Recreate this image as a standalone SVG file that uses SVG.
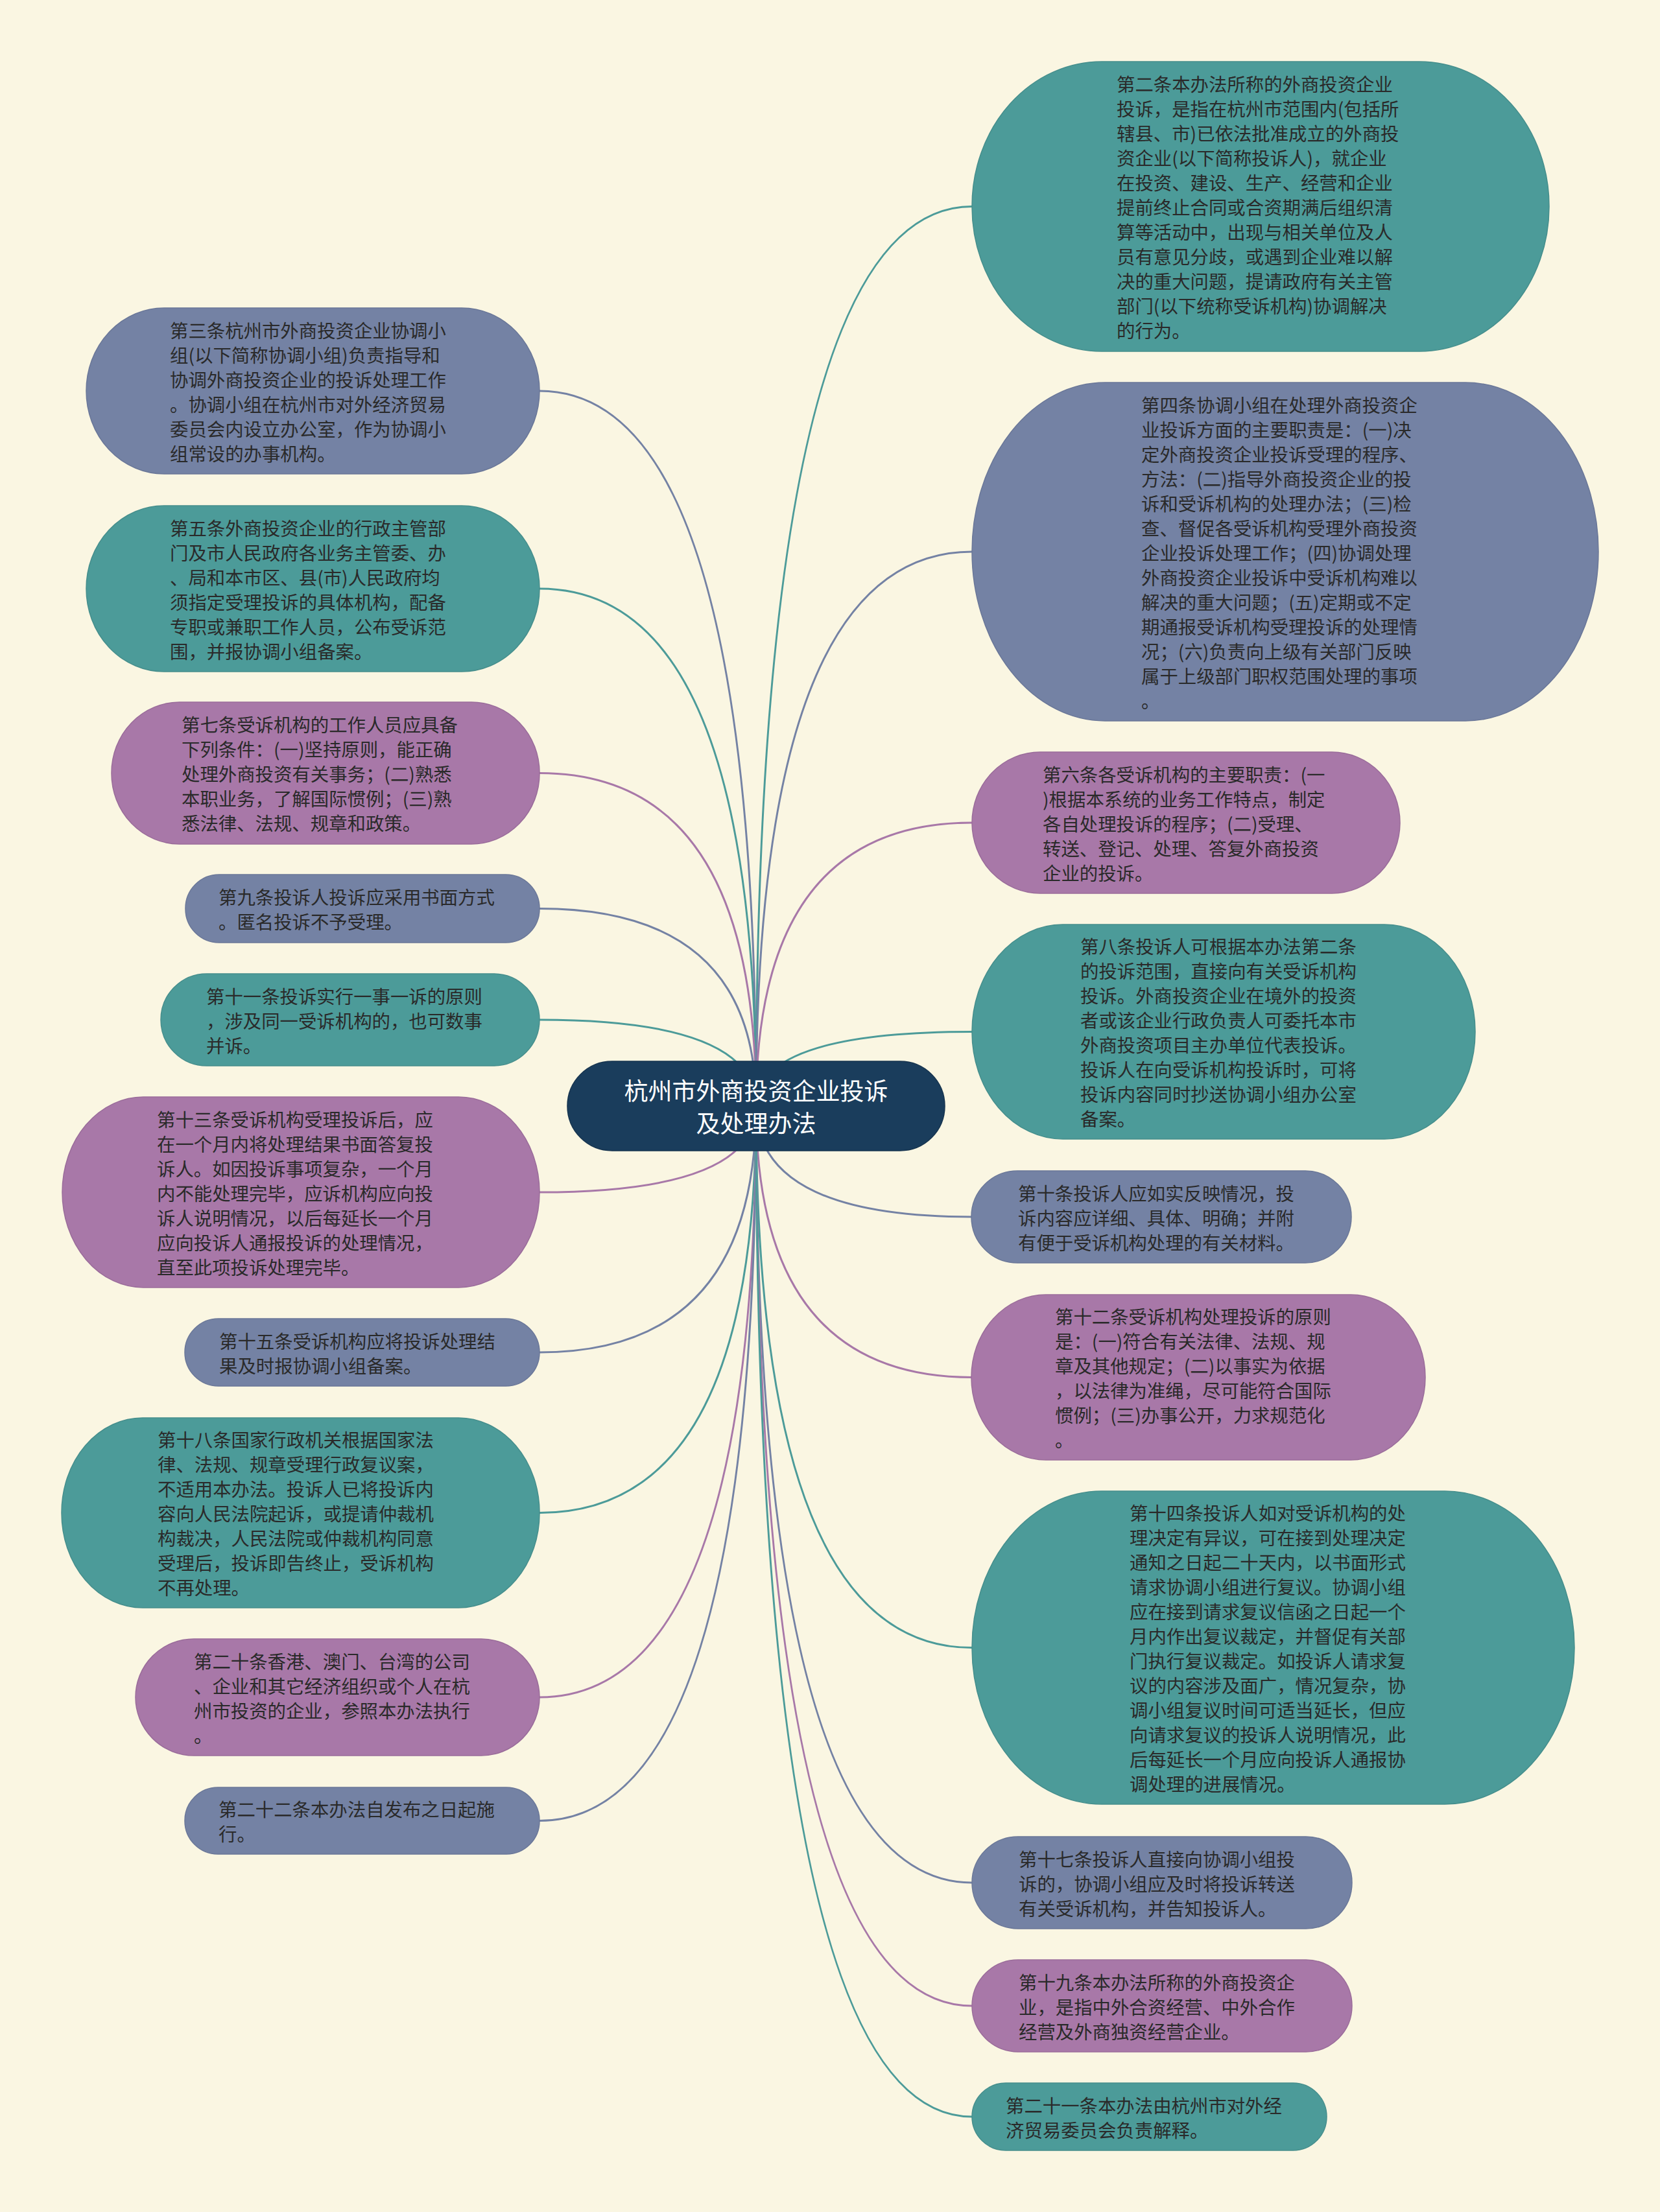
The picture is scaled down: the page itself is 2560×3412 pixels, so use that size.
<svg xmlns="http://www.w3.org/2000/svg" width="2560" height="3412" viewBox="0 0 2560 3412">
<style>
.bg{fill:#FAF6E2}
.nt{fill:#4C9B99;stroke:#458E8C;stroke-width:1.5}
.nb{fill:#7482A4;stroke:#6A7798;stroke-width:1.5}
.np{fill:#A878A8;stroke:#9A6C9A;stroke-width:1.5}
.nc{fill:#1A3D5C;stroke:#15334E;stroke-width:1.5}
.ct{stroke:#4C9B99}
.cb{stroke:#7482A4}
.cp{stroke:#A878A8}
#connectors path{fill:none;stroke-width:3}
.tx{font-family:"Noto Sans CJK SC","Noto Sans",sans-serif;font-size:28.4px;fill:#2A2A2A;dominant-baseline:central}
.tc{font-family:"Noto Sans CJK SC","Noto Sans",sans-serif;font-size:37px;fill:#FFFFFF;dominant-baseline:central;text-anchor:middle}
</style>
<rect class="bg" x="0" y="0" width="2560" height="3412"/>
<g id="connectors">
<path class="cb" d="M1166 1706 Q1166 603 832 603"/>
<path class="ct" d="M1166 1706 Q1166 908 832 908"/>
<path class="cp" d="M1166 1706 Q1166 1192.5 832 1192.5"/>
<path class="cb" d="M1166 1706 Q1166 1401.5 832 1401.5"/>
<path class="ct" d="M1166 1706 Q1166 1573 832 1573"/>
<path class="cp" d="M1166 1706 Q1166 1839 832 1839"/>
<path class="cb" d="M1166 1706 Q1166 2086 832 2086"/>
<path class="ct" d="M1166 1706 Q1166 2333.5 832 2333.5"/>
<path class="cp" d="M1166 1706 Q1166 2618 832 2618"/>
<path class="cb" d="M1166 1706 Q1166 2808.5 832 2808.5"/>
<path class="ct" d="M1166 1706 Q1166 318.5 1499 318.5"/>
<path class="cb" d="M1166 1706 Q1166 851 1499 851"/>
<path class="cp" d="M1166 1706 Q1166 1269 1499 1269"/>
<path class="ct" d="M1166 1706 Q1166 1591.5 1499 1591.5"/>
<path class="cb" d="M1166 1706 Q1166 1877 1499 1877"/>
<path class="cp" d="M1166 1706 Q1166 2124.5 1499 2124.5"/>
<path class="ct" d="M1166 1706 Q1166 2541.5 1499 2541.5"/>
<path class="cb" d="M1166 1706 Q1166 2904 1499 2904"/>
<path class="cp" d="M1166 1706 Q1166 3094 1499 3094"/>
<path class="ct" d="M1166 1706 Q1166 3265 1499 3265"/>
</g>
<g id="center">
<rect class="nc" x="875" y="1637" width="582" height="138" rx="69" ry="69"/>
<text class="tc" x="1166" y="1681">杭州市外商投资企业投诉</text>
<text class="tc" x="1166" y="1731">及处理办法</text>
</g>
<g id="n3">
<rect class="nb" x="133" y="475" width="699" height="256" rx="120" ry="128"/>
<text class="tx" x="262" y="508">第三条杭州市外商投资企业协调小</text>
<text class="tx" x="262" y="546">组(以下简称协调小组)负责指导和</text>
<text class="tx" x="262" y="584">协调外商投资企业的投诉处理工作</text>
<text class="tx" x="262" y="622">。协调小组在杭州市对外经济贸易</text>
<text class="tx" x="262" y="660">委员会内设立办公室，作为协调小</text>
<text class="tx" x="262" y="698">组常设的办事机构。</text>
</g>
<g id="n5">
<rect class="nt" x="133" y="780" width="699" height="256" rx="120" ry="128"/>
<text class="tx" x="262" y="813">第五条外商投资企业的行政主管部</text>
<text class="tx" x="262" y="851">门及市人民政府各业务主管委、办</text>
<text class="tx" x="262" y="889">、局和本市区、县(市)人民政府均</text>
<text class="tx" x="262" y="927">须指定受理投诉的具体机构，配备</text>
<text class="tx" x="262" y="965">专职或兼职工作人员，公布受诉范</text>
<text class="tx" x="262" y="1003">围，并报协调小组备案。</text>
</g>
<g id="n7">
<rect class="np" x="172" y="1083" width="660" height="219" rx="105" ry="109"/>
<text class="tx" x="280" y="1116.5">第七条受诉机构的工作人员应具备</text>
<text class="tx" x="280" y="1154.5">下列条件：(一)坚持原则，能正确</text>
<text class="tx" x="280" y="1192.5">处理外商投资有关事务；(二)熟悉</text>
<text class="tx" x="280" y="1230.5">本职业务，了解国际惯例；(三)熟</text>
<text class="tx" x="280" y="1268.5">悉法律、法规、规章和政策。</text>
</g>
<g id="n9">
<rect class="nb" x="286" y="1349" width="546" height="105" rx="52" ry="52"/>
<text class="tx" x="337" y="1382.5">第九条投诉人投诉应采用书面方式</text>
<text class="tx" x="337" y="1420.5">。匿名投诉不予受理。</text>
</g>
<g id="n11">
<rect class="nt" x="248" y="1502" width="584" height="142" rx="71" ry="71"/>
<text class="tx" x="318" y="1535">第十一条投诉实行一事一诉的原则</text>
<text class="tx" x="318" y="1573">，涉及同一受诉机构的，也可数事</text>
<text class="tx" x="318" y="1611">并诉。</text>
</g>
<g id="n13">
<rect class="np" x="96" y="1692" width="736" height="294" rx="125" ry="147"/>
<text class="tx" x="242" y="1725">第十三条受诉机构受理投诉后，应</text>
<text class="tx" x="242" y="1763">在一个月内将处理结果书面答复投</text>
<text class="tx" x="242" y="1801">诉人。如因投诉事项复杂，一个月</text>
<text class="tx" x="242" y="1839">内不能处理完毕，应诉机构应向投</text>
<text class="tx" x="242" y="1877">诉人说明情况，以后每延长一个月</text>
<text class="tx" x="242" y="1915">应向投诉人通报投诉的处理情况，</text>
<text class="tx" x="242" y="1953">直至此项投诉处理完毕。</text>
</g>
<g id="n15">
<rect class="nb" x="285" y="2034" width="547" height="104" rx="52" ry="52"/>
<text class="tx" x="338" y="2067">第十五条受诉机构应将投诉处理结</text>
<text class="tx" x="338" y="2105">果及时报协调小组备案。</text>
</g>
<g id="n18">
<rect class="nt" x="95" y="2187" width="737" height="293" rx="125" ry="146"/>
<text class="tx" x="243" y="2219.5">第十八条国家行政机关根据国家法</text>
<text class="tx" x="243" y="2257.5">律、法规、规章受理行政复议案，</text>
<text class="tx" x="243" y="2295.5">不适用本办法。投诉人已将投诉内</text>
<text class="tx" x="243" y="2333.5">容向人民法院起诉，或提请仲裁机</text>
<text class="tx" x="243" y="2371.5">构裁决，人民法院或仲裁机构同意</text>
<text class="tx" x="243" y="2409.5">受理后，投诉即告终止，受诉机构</text>
<text class="tx" x="243" y="2447.5">不再处理。</text>
</g>
<g id="n20">
<rect class="np" x="209" y="2528" width="623" height="180" rx="90" ry="90"/>
<text class="tx" x="299" y="2561">第二十条香港、澳门、台湾的公司</text>
<text class="tx" x="299" y="2599">、企业和其它经济组织或个人在杭</text>
<text class="tx" x="299" y="2637">州市投资的企业，参照本办法执行</text>
<text class="tx" x="299" y="2675">。</text>
</g>
<g id="n22">
<rect class="nb" x="285" y="2757" width="547" height="103" rx="51" ry="51"/>
<text class="tx" x="337" y="2789.5">第二十二条本办法自发布之日起施</text>
<text class="tx" x="337" y="2827.5">行。</text>
</g>
<g id="n2">
<rect class="nt" x="1499" y="95" width="890" height="447" rx="200" ry="223"/>
<text class="tx" x="1722" y="128.5">第二条本办法所称的外商投资企业</text>
<text class="tx" x="1722" y="166.5">投诉，是指在杭州市范围内(包括所</text>
<text class="tx" x="1722" y="204.5">辖县、市)已依法批准成立的外商投</text>
<text class="tx" x="1722" y="242.5">资企业(以下简称投诉人)，就企业</text>
<text class="tx" x="1722" y="280.5">在投资、建设、生产、经营和企业</text>
<text class="tx" x="1722" y="318.5">提前终止合同或合资期满后组织清</text>
<text class="tx" x="1722" y="356.5">算等活动中，出现与相关单位及人</text>
<text class="tx" x="1722" y="394.5">员有意见分歧，或遇到企业难以解</text>
<text class="tx" x="1722" y="432.5">决的重大问题，提请政府有关主管</text>
<text class="tx" x="1722" y="470.5">部门(以下统称受诉机构)协调解决</text>
<text class="tx" x="1722" y="508.5">的行为。</text>
</g>
<g id="n4">
<rect class="nb" x="1499" y="590" width="966" height="522" rx="205" ry="261"/>
<text class="tx" x="1760" y="623">第四条协调小组在处理外商投资企</text>
<text class="tx" x="1760" y="661">业投诉方面的主要职责是：(一)决</text>
<text class="tx" x="1760" y="699">定外商投资企业投诉受理的程序、</text>
<text class="tx" x="1760" y="737">方法：(二)指导外商投资企业的投</text>
<text class="tx" x="1760" y="775">诉和受诉机构的处理办法；(三)检</text>
<text class="tx" x="1760" y="813">查、督促各受诉机构受理外商投资</text>
<text class="tx" x="1760" y="851">企业投诉处理工作；(四)协调处理</text>
<text class="tx" x="1760" y="889">外商投资企业投诉中受诉机构难以</text>
<text class="tx" x="1760" y="927">解决的重大问题；(五)定期或不定</text>
<text class="tx" x="1760" y="965">期通报受诉机构受理投诉的处理情</text>
<text class="tx" x="1760" y="1003">况；(六)负责向上级有关部门反映</text>
<text class="tx" x="1760" y="1041">属于上级部门职权范围处理的事项</text>
<text class="tx" x="1760" y="1079">。</text>
</g>
<g id="n6">
<rect class="np" x="1499" y="1160" width="660" height="218" rx="105" ry="109"/>
<text class="tx" x="1608" y="1193">第六条各受诉机构的主要职责：(一</text>
<text class="tx" x="1608" y="1231">)根据本系统的业务工作特点，制定</text>
<text class="tx" x="1608" y="1269">各自处理投诉的程序；(二)受理、</text>
<text class="tx" x="1608" y="1307">转送、登记、处理、答复外商投资</text>
<text class="tx" x="1608" y="1345">企业的投诉。</text>
</g>
<g id="n8">
<rect class="nt" x="1499" y="1426" width="776" height="331" rx="140" ry="165"/>
<text class="tx" x="1666" y="1458.5">第八条投诉人可根据本办法第二条</text>
<text class="tx" x="1666" y="1496.5">的投诉范围，直接向有关受诉机构</text>
<text class="tx" x="1666" y="1534.5">投诉。外商投资企业在境外的投资</text>
<text class="tx" x="1666" y="1572.5">者或该企业行政负责人可委托本市</text>
<text class="tx" x="1666" y="1610.5">外商投资项目主办单位代表投诉。</text>
<text class="tx" x="1666" y="1648.5">投诉人在向受诉机构投诉时，可将</text>
<text class="tx" x="1666" y="1686.5">投诉内容同时抄送协调小组办公室</text>
<text class="tx" x="1666" y="1724.5">备案。</text>
</g>
<g id="n10">
<rect class="nb" x="1498" y="1806" width="586" height="142" rx="71" ry="71"/>
<text class="tx" x="1570" y="1839">第十条投诉人应如实反映情况，投</text>
<text class="tx" x="1570" y="1877">诉内容应详细、具体、明确；并附</text>
<text class="tx" x="1570" y="1915">有便于受诉机构处理的有关材料。</text>
</g>
<g id="n12">
<rect class="np" x="1498" y="1997" width="700" height="255" rx="115" ry="127"/>
<text class="tx" x="1627" y="2029.5">第十二条受诉机构处理投诉的原则</text>
<text class="tx" x="1627" y="2067.5">是：(一)符合有关法律、法规、规</text>
<text class="tx" x="1627" y="2105.5">章及其他规定；(二)以事实为依据</text>
<text class="tx" x="1627" y="2143.5">，以法律为准绳，尽可能符合国际</text>
<text class="tx" x="1627" y="2181.5">惯例；(三)办事公开，力求规范化</text>
<text class="tx" x="1627" y="2219.5">。</text>
</g>
<g id="n14">
<rect class="nt" x="1499" y="2300" width="929" height="483" rx="200" ry="241"/>
<text class="tx" x="1742" y="2332.5">第十四条投诉人如对受诉机构的处</text>
<text class="tx" x="1742" y="2370.5">理决定有异议，可在接到处理决定</text>
<text class="tx" x="1742" y="2408.5">通知之日起二十天内，以书面形式</text>
<text class="tx" x="1742" y="2446.5">请求协调小组进行复议。协调小组</text>
<text class="tx" x="1742" y="2484.5">应在接到请求复议信函之日起一个</text>
<text class="tx" x="1742" y="2522.5">月内作出复议裁定，并督促有关部</text>
<text class="tx" x="1742" y="2560.5">门执行复议裁定。如投诉人请求复</text>
<text class="tx" x="1742" y="2598.5">议的内容涉及面广，情况复杂，协</text>
<text class="tx" x="1742" y="2636.5">调小组复议时间可适当延长，但应</text>
<text class="tx" x="1742" y="2674.5">向请求复议的投诉人说明情况，此</text>
<text class="tx" x="1742" y="2712.5">后每延长一个月应向投诉人通报协</text>
<text class="tx" x="1742" y="2750.5">调处理的进展情况。</text>
</g>
<g id="n17">
<rect class="nb" x="1499" y="2833" width="586" height="142" rx="71" ry="71"/>
<text class="tx" x="1571" y="2866">第十七条投诉人直接向协调小组投</text>
<text class="tx" x="1571" y="2904">诉的，协调小组应及时将投诉转送</text>
<text class="tx" x="1571" y="2942">有关受诉机构，并告知投诉人。</text>
</g>
<g id="n19">
<rect class="np" x="1499" y="3023" width="586" height="142" rx="71" ry="71"/>
<text class="tx" x="1571" y="3056">第十九条本办法所称的外商投资企</text>
<text class="tx" x="1571" y="3094">业，是指中外合资经营、中外合作</text>
<text class="tx" x="1571" y="3132">经营及外商独资经营企业。</text>
</g>
<g id="n21">
<rect class="nt" x="1499" y="3213" width="547" height="104" rx="52" ry="52"/>
<text class="tx" x="1551" y="3246">第二十一条本办法由杭州市对外经</text>
<text class="tx" x="1551" y="3284">济贸易委员会负责解释。</text>
</g>
</svg>
